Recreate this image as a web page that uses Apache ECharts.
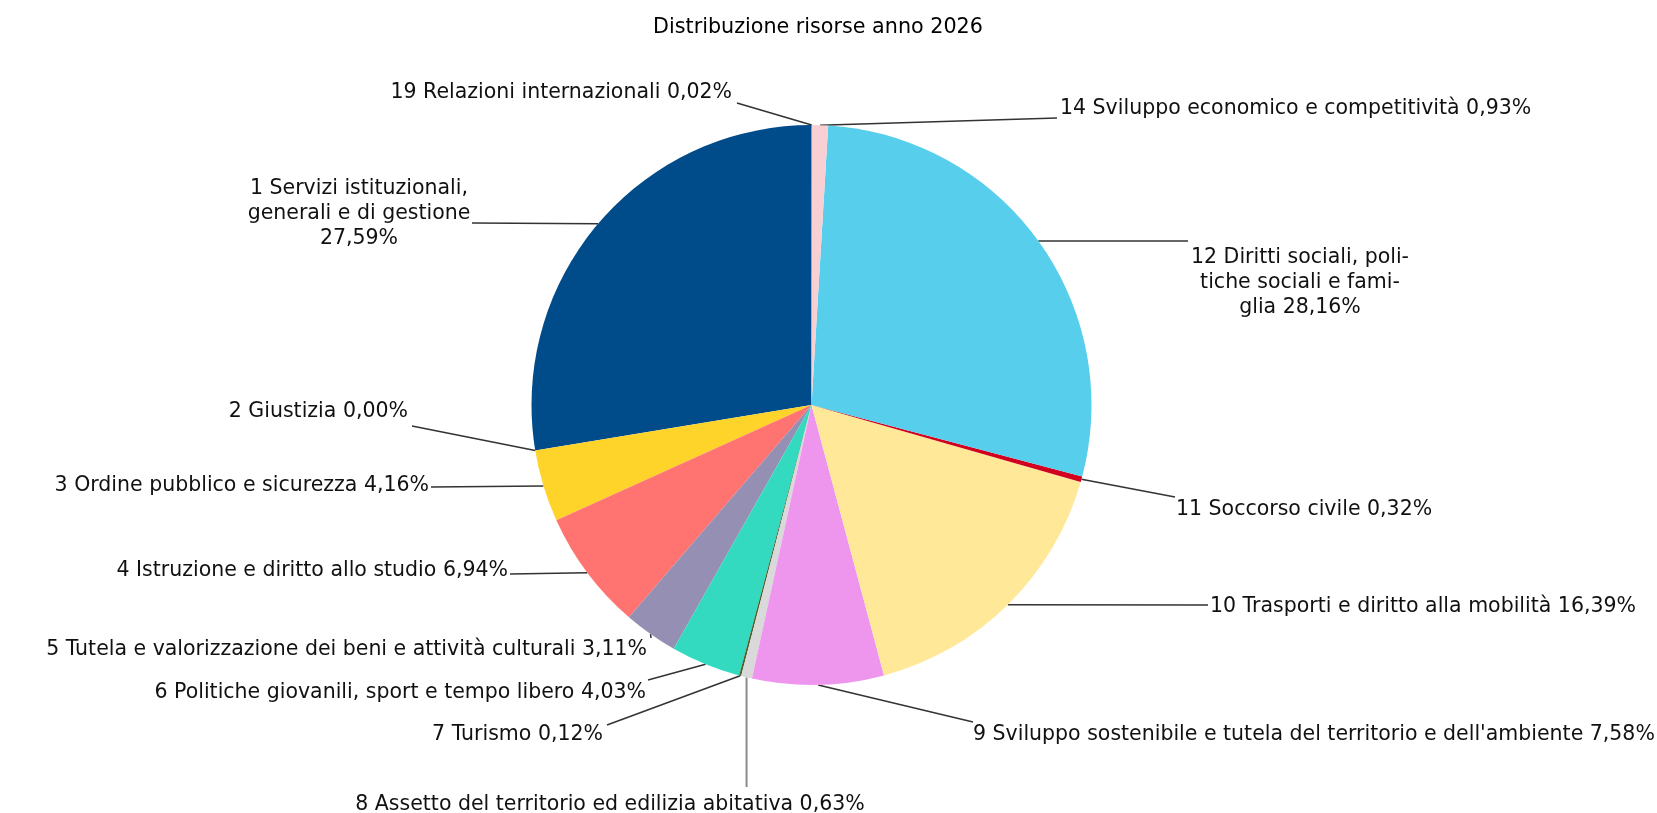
<!DOCTYPE html>
<html>
<head>
<meta charset="utf-8">
<script src="https://cdn.jsdelivr.net/npm/echarts@6/dist/echarts.min.js"></script>
<style>
  html, body { margin: 0; padding: 0; background: #ffffff; }
  #chart { width: 1657px; height: 813px; }
</style>
</head>
<body>
<div id="chart"></div>
<script>
// ---- Data ----
const TITLE = 'Distribuzione risorse anno 2026';
const codes = ['1', '2', '3', '4', '5', '6', '7', '8', '9', '10', '11', '12', '14', '19'];
const names = [
  'Servizi istituzionali, generali e di gestione',
  'Giustizia',
  'Ordine pubblico e sicurezza',
  'Istruzione e diritto allo studio',
  'Tutela e valorizzazione dei beni e attività culturali',
  'Politiche giovanili, sport e tempo libero',
  'Turismo',
  'Assetto del territorio ed edilizia abitativa',
  "Sviluppo sostenibile e tutela del territorio e dell'ambiente",
  'Trasporti e diritto alla mobilità',
  'Soccorso civile',
  'Diritti sociali, politiche sociali e famiglia',
  'Sviluppo economico e competitività',
  'Relazioni internazionali'
];
const values = [27.59, 0.00, 4.16, 6.94, 3.11, 4.03, 0.12, 0.63, 7.58, 16.39, 0.32, 28.16, 0.93, 0.02];
// label text as wrapped in the reference ({v} = formatted percentage)
const labelTexts = [
  '1 Servizi istituzionali,\ngenerali e di gestione\n{v}',
  '2 Giustizia {v}',
  '3 Ordine pubblico e sicurezza {v}',
  '4 Istruzione e diritto allo studio {v}',
  '5 Tutela e valorizzazione dei beni e attività culturali {v}',
  '6 Politiche giovanili, sport e tempo libero {v}',
  '7 Turismo {v}',
  '8 Assetto del territorio ed edilizia abitativa {v}',
  "9 Sviluppo sostenibile e tutela del territorio e dell'ambiente {v}",
  '10 Trasporti e diritto alla mobilità {v}',
  '11 Soccorso civile {v}',
  '12 Diritti sociali, poli-\ntiche sociali e fami-\nglia {v}',
  '14 Sviluppo economico e competitività {v}',
  '19 Relazioni internazionali {v}'
];

// ---- Styling / layout (not data) ----
const colors = ['#004C8A', '#B0B0B0', '#FFD42A', '#FF7470', '#948FB3', '#33DAC0', '#4E5E2C',
                '#D9D9D9', '#EE95EE', '#FFE897', '#D0001E', '#56CEEC', '#F8D0D4', '#808080'];
const labelPlace = [
  { x: 359,  y: 214, align: 'center', end: [472, 223] },
  { x: 408,  y: 412, align: 'right',  end: [412, 426] },
  { x: 429,  y: 486, align: 'right',  end: [431, 487] },
  { x: 508,  y: 571, align: 'right',  end: [510, 574] },
  { x: 647,  y: 650, align: 'right',  end: [651, 638] },
  { x: 646,  y: 693, align: 'right',  end: [648, 680] },
  { x: 603,  y: 735, align: 'right',  end: [607, 725] },
  { x: 610,  y: 805, align: 'center', end: [null, 787] },
  { x: 973,  y: 735, align: 'left',   end: [973, 722] },
  { x: 1210, y: 607, align: 'left',   end: [1208, 605] },
  { x: 1176, y: 510, align: 'left',   end: [1175, 497] },
  { x: 1300, y: 283, align: 'center', end: [1188, 241] },
  { x: 1060, y: 109, align: 'left',   end: [1057, 118] },
  { x: 732,  y: 93,  align: 'right',  end: [737, 103] }
];

const fmt = v => v.toFixed(2).replace('.', ',') + '%';

const data = values.map((v, i) => ({
  name: codes[i] + ' ' + names[i],
  value: v,
  itemStyle: { color: colors[i] },
  labelLine: i === 7 ? { lineStyle: { color: '#8a8a8a', width: 2 } } : undefined
}));

const chart = echarts.init(document.getElementById('chart'), null, { renderer: 'canvas' });
chart.setOption({
  backgroundColor: '#ffffff',
  animation: false,
  graphic: [{
    type: 'text',
    x: 818, y: 28,
    style: {
      text: TITLE,
      font: '20.7px "DejaVu Sans", sans-serif',
      fill: '#000000',
      textAlign: 'center',
      textVerticalAlign: 'middle'
    }
  }],
  series: [{
    type: 'pie',
    center: [811.5, 405],
    radius: 280,
    startAngle: 90,
    clockwise: false,
    avoidLabelOverlap: false,
    data: data,
    itemStyle: { borderWidth: 0 },
    emphasis: { disabled: true },
    label: {
      show: true,
      position: 'outside',
      fontFamily: '"DejaVu Sans", sans-serif',
      fontSize: 20.5,
      lineHeight: 25,
      color: '#111111',
      align: 'center',
      formatter: p => labelTexts[p.dataIndex].replace('{v}', fmt(p.value))
    },
    labelLine: {
      show: true,
      length: 10,
      length2: 10,
      smooth: false,
      lineStyle: { color: '#333333', width: 1.5 }
    },
    labelLayout: function (params) {
      const L = labelPlace[params.dataIndex];
      const p0 = params.labelLinePoints ? params.labelLinePoints[0] : null;
      const end = [L.end[0] === null && p0 ? p0[0] : L.end[0], L.end[1]];
      const out = { x: L.x, y: L.y, align: L.align, verticalAlign: 'middle' };
      if (p0) out.labelLinePoints = [p0, end, end];
      return out;
    }
  }]
});
</script>
</body>
</html>
